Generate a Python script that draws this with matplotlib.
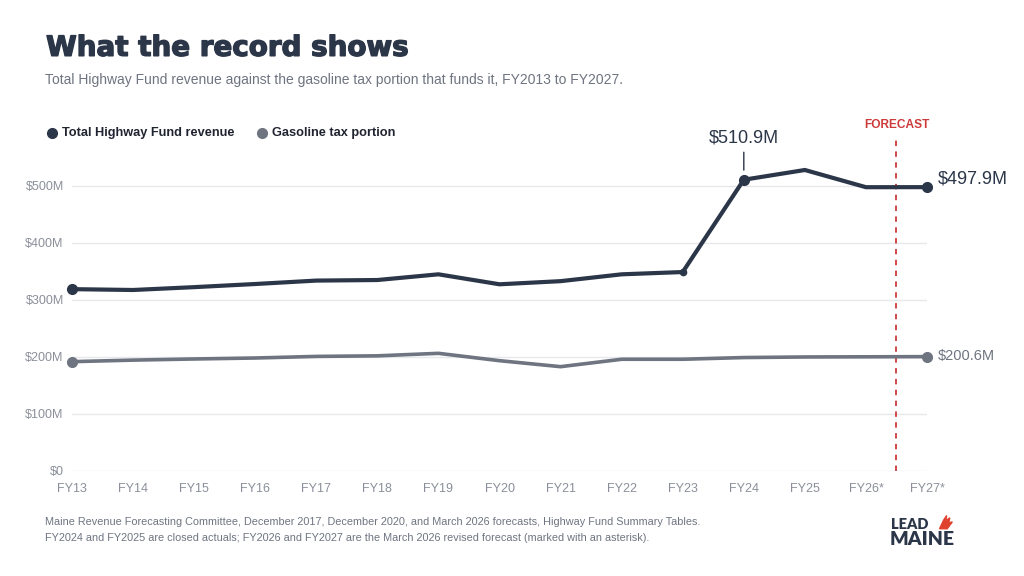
import matplotlib.pyplot as plt
import matplotlib.patheffects as pe
from matplotlib.patches import Polygon
from matplotlib.lines import Line2D

# === Data ===
years = ["FY13", "FY14", "FY15", "FY16", "FY17", "FY18", "FY19", "FY20",
         "FY21", "FY22", "FY23", "FY24", "FY25", "FY26*", "FY27*"]
total_revenue = [319, 317.5, 322.5, 328, 334, 335, 345, 327.5,
                 333, 345, 349, 510.9, 528, 497.8, 497.9]
gas_tax = [191.8, 194.5, 196.5, 198.2, 201, 202, 206.4, 193.5,
           183, 196, 196, 199, 200, 200.3, 200.6]
y_ticks = [0, 100, 200, 300, 400, 500]
y_labels = ["$0", "$100M", "$200M", "$300M", "$400M", "$500M"]

DARK = "#2b3648"
GRAY = "#6e7480"
LIGHT = "#8a8f99"
GRID = "#e6e8ec"
RED = "#cc3a3a"

plt.rcParams["font.family"] = ["Liberation Sans", "DejaVu Sans"]

fig = plt.figure(figsize=(10.24, 5.76), dpi=100)
ax = fig.add_axes([0.0703, 0.1823, 0.835, 0.578])

x = list(range(len(years)))

# gridlines
for t in y_ticks:
    ax.axhline(t, color=GRID, lw=1, zorder=0)

ax.plot(x, gas_tax, color=GRAY, lw=2.6, solid_joinstyle="miter", zorder=3)
ax.plot(x, total_revenue, color=DARK, lw=3, solid_joinstyle="miter", zorder=4)

# markers
for i in [0, 11, 14]:
    ax.plot(x[i], total_revenue[i], "o", color=DARK, ms=7, zorder=5,
            clip_on=False)
ax.plot(x[10], total_revenue[10], "o", color=DARK, ms=4.5, zorder=5)
for i in [0, 14]:
    ax.plot(x[i], gas_tax[i], "o", color=GRAY, ms=7, zorder=5, clip_on=False)

# forecast divider
ax.axvline(13.5, ymin=0, ymax=1, color=RED, lw=1.3, ls=(0, (3, 3)), zorder=2)
ax.text(13.5, 597, "FORECAST", color=RED, fontsize=8.6,
        fontweight="bold", ha="center", va="bottom")

# annotations
ax.annotate("$510.9M", xy=(x[11], total_revenue[11] + 12),
            xytext=(x[11], total_revenue[11] + 58),
            ha="center", va="bottom", fontsize=13, color=DARK,
            arrowprops=dict(arrowstyle="-", color=DARK, lw=1))
ax.text(x[14] + 0.17, total_revenue[14] + 14, "$497.9M", fontsize=13,
        color=DARK, va="center", ha="left", clip_on=False)
ax.text(x[14] + 0.17, gas_tax[14] + 1, "$200.6M", fontsize=10.5,
        color=GRAY, va="center", ha="left", clip_on=False)

ax.set_xlim(0, 14)
ax.set_ylim(0, 584)
ax.set_xticks(x)
ax.set_xticklabels(years)
ax.set_yticks(y_ticks)
ax.set_yticklabels(y_labels)
ax.tick_params(length=0, labelsize=9, colors=LIGHT)
ax.tick_params(axis="x", pad=9)
ax.tick_params(axis="y", pad=6)
for s in ax.spines.values():
    s.set_visible(False)

# === Header ===
fig.text(0.045, 0.917, "What the record shows", fontsize=20, color=DARK,
         fontweight="bold", family=["DejaVu Sans"], va="center",
         path_effects=[pe.withStroke(linewidth=1.0, foreground=DARK)])
fig.text(0.044, 0.861, "Total Highway Fund revenue against the gasoline tax "
         "portion that funds it, FY2013 to FY2027.", fontsize=10,
         color=GRAY, va="center")

# legend
fig.add_artist(Line2D([0.0508], [0.7685], marker="o", ms=7, color=DARK,
                      transform=fig.transFigure))
fig.text(0.061, 0.7685, "Total Highway Fund revenue", fontsize=9.2,
         fontweight="bold", color="#1f2430", va="center")
fig.add_artist(Line2D([0.2559], [0.7685], marker="o", ms=7, color=GRAY,
                      transform=fig.transFigure))
fig.text(0.266, 0.7685, "Gasoline tax portion", fontsize=9.2,
         fontweight="bold", color="#1f2430", va="center")

# === Footer ===
fig.text(0.044, 0.094, "Maine Revenue Forecasting Committee, December 2017, "
         "December 2020, and March 2026 forecasts, Highway Fund Summary Tables.",
         fontsize=7.8, color=GRAY, va="center")
fig.text(0.044, 0.066, "FY2024 and FY2025 are closed actuals; FY2026 and "
         "FY2027 are the March 2026 revised forecast (marked with an asterisk).",
         fontsize=7.8, color=GRAY, va="center")

# logo
fig.text(0.870, 0.090, "LEAD", fontsize=10.5, fontweight="heavy",
         family=["Lato", "DejaVu Sans"], color=DARK, va="center")
fig.text(0.869, 0.063, "MAINE", fontsize=14, fontweight="heavy",
         family=["Lato", "DejaVu Sans"], color=DARK, va="center")
flame = Polygon([(0.9175, 0.082), (0.9215, 0.097), (0.9245, 0.105),
                 (0.9235, 0.096), (0.9275, 0.101), (0.9265, 0.092),
                 (0.9300, 0.094), (0.9250, 0.082)],
                closed=True, transform=fig.transFigure, color="#e0412f",
                figure=fig)
fig.patches.append(flame)

fig.savefig("out.png", dpi=100, facecolor="white")
